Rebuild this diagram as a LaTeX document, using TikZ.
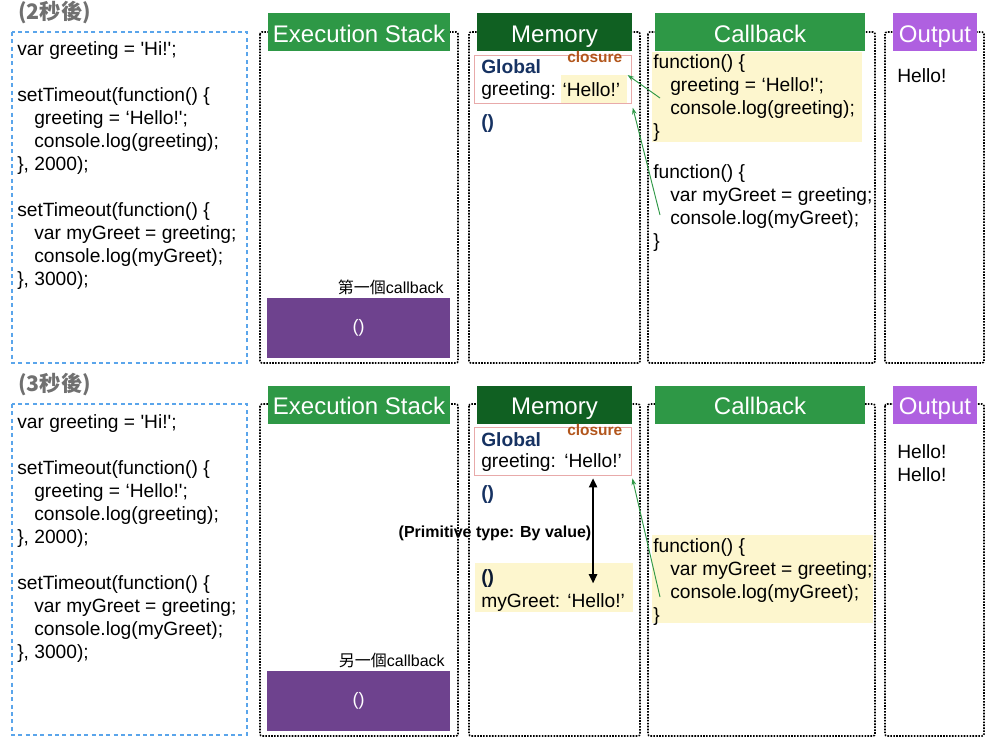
\documentclass[tikz,border=0pt]{standalone}
\usepackage{fontspec}
\setmainfont{Liberation Sans}[Ligatures=TeXOff]
\newfontfamily\cjk{Noto Sans CJK TC}
\usetikzlibrary{arrows.meta}

\definecolor{hdgreen}{RGB}{46,152,70}
\definecolor{memgreen}{RGB}{16,96,34}
\definecolor{outpurple}{RGB}{175,96,224}
\definecolor{stackpurple}{RGB}{110,66,142}
\definecolor{hlyellow}{RGB}{253,246,206}
\definecolor{codeblue}{RGB}{90,165,235}
\definecolor{pinkline}{RGB}{232,170,170}
\definecolor{closurebrown}{RGB}{178,86,28}
\definecolor{globalnavy}{RGB}{22,50,98}
\definecolor{titlegray}{RGB}{112,112,112}

\begin{document}
\begin{tikzpicture}[x=0.75pt, y=-0.75pt,
  frame/.style={densely dotted, line width=1.2pt, rounded corners=1.5pt},
  codeframe/.style={draw=codeblue, dash pattern=on 3pt off 2.5pt, line width=1.1pt},
  header/.style={text=white, font=\fontsize{18}{20}\selectfont, inner sep=0pt, minimum height=28.5pt,
    text height=16pt, text depth=1pt},
  code/.style={font=\fontsize{14.4}{17.25}\selectfont, align=left, inner sep=0pt, anchor=north west},
  txt/.style={font=\fontsize{14.4}{17.25}\selectfont, inner sep=0pt, anchor=base west},
  boldtxt/.style={font=\fontsize{14.4}{17.25}\selectfont\bfseries, inner sep=0pt, anchor=base west},
  closure/.style={font=\fontsize{11.6}{14}\selectfont\bfseries, text=closurebrown, inner sep=0pt, anchor=base west},
  title/.style={font=\cjk\bfseries\fontsize{16}{18}\selectfont, text=titlegray, inner sep=0pt, anchor=west},
  note/.style={font=\fontsize{12}{14}\selectfont, inner sep=0pt, anchor=base east},
  stackitem/.style={fill=stackpurple, text=white, font=\fontsize{13.5}{16}\selectfont, minimum width=137.25pt, minimum height=45pt},
  globalbox/.style={draw=pinkline, line width=0.6pt, anchor=north west, minimum width=117.75pt, minimum height=36pt},
  link/.style={-{Stealth[length=5pt, width=3.5pt]}, draw=hdgreen, line width=0.7pt}]
\useasboundingbox (0,0) rectangle (992,744);

% ---- 2 seconds later
\node[title] (titleA) at (18,13) {(2秒後)};
\draw[codeframe] (12,32) rectangle (247,363);
\node[code] (codeA) at (17,38.9) {\strut var greeting = 'Hi!';\\ \\
  setTimeout(function() \{\\ \hspace*{12.75pt}greeting = ‘Hello!';\\ \hspace*{12.75pt}console.log(greeting);\\ \}, 2000);\\ \\
  setTimeout(function() \{\\ \hspace*{12.75pt}var myGreet = greeting;\\ \hspace*{12.75pt}console.log(myGreet);\\ \}, 3000);};

\draw[frame] (260,32) rectangle (458,363);
\draw[frame] (469,32) rectangle (640,363);
\draw[frame] (648,32) rectangle (875,363);
\draw[frame] (885,32) rectangle (984,363);
\node[header, fill=hdgreen, minimum width=136.5pt] (stackhdA) at (359,32) {Execution Stack};
\node[header, fill=memgreen, minimum width=116.25pt] (memhdA) at (554.5,32) {Memory};
\node[header, fill=hdgreen, minimum width=157.5pt] (cbhdA) at (760,32) {Callback};
\node[header, fill=outpurple, minimum width=63pt] (outhdA) at (935,32) {Output};

\node[note] (labelA) at (444,293) {{\cjk 第一個}callback};
\node[stackitem] (callA) at (358.5,328) {()};

\node[globalbox] (globalA) at (474,55) {};
\node[closure] (closA) at (567,62) {closure};
\node[boldtxt, text=globalnavy] (globtA) at (481,73) {Global};
\node[txt] (greetA) at (481,95) {greeting:};
\node[fill=hlyellow, anchor=north west, inner xsep=1pt, inner ysep=0pt, text width=47.5pt, align=left,
  minimum height=21pt, font=\fontsize{14.4}{17.25}\selectfont] (helloA) at (561,75) {‘Hello!’};
\node[boldtxt, text=globalnavy] (fnA) at (481,128) {()};

\fill[hlyellow] (652,52) rectangle (862,142);
\node[code] (cbcodeA1) at (653,51.9) {\strut function() \{\\ \hspace*{12.75pt}greeting = ‘Hello!';\\ \hspace*{12.75pt}console.log(greeting);\\ \}};
\node[code] (cbcodeA2) at (653,161.9) {\strut function() \{\\ \hspace*{12.75pt}var myGreet = greeting;\\ \hspace*{12.75pt}console.log(myGreet);\\ \}};

\node[txt] (outA) at (897,82) {Hello!};

\coordinate (srcA1) at (660,98);
\coordinate (srcA2) at (660,215);
\draw[link] (srcA1) -- (helloA.north east);
\draw[link, shorten >=3pt] (srcA2) -- (globalA.south east);

% ---- 3 seconds later
\node[title] (titleB) at (18,385) {(3秒後)};
\draw[codeframe] (12,404) rectangle (247,735);
\node[code] (codeB) at (17,411.9) {\strut var greeting = 'Hi!';\\ \\
  setTimeout(function() \{\\ \hspace*{12.75pt}greeting = ‘Hello!';\\ \hspace*{12.75pt}console.log(greeting);\\ \}, 2000);\\ \\
  setTimeout(function() \{\\ \hspace*{12.75pt}var myGreet = greeting;\\ \hspace*{12.75pt}console.log(myGreet);\\ \}, 3000);};

\draw[frame] (260,404) rectangle (458,736);
\draw[frame] (469,404) rectangle (640,736);
\draw[frame] (648,404) rectangle (875,736);
\draw[frame] (885,404) rectangle (984,736);
\node[header, fill=hdgreen, minimum width=136.5pt] (stackhdB) at (359,404.5) {Execution Stack};
\node[header, fill=memgreen, minimum width=116.25pt] (memhdB) at (554.5,404.5) {Memory};
\node[header, fill=hdgreen, minimum width=157.5pt] (cbhdB) at (760,404.5) {Callback};
\node[header, fill=outpurple, minimum width=63pt] (outhdB) at (935,404.5) {Output};

\node[note] (labelB) at (445,666) {{\cjk 另一個}callback};
\node[stackitem] (callB) at (358.5,700.5) {()};

\node[globalbox] (globalB) at (474,427) {};
\node[closure] (closB) at (567,435) {closure};
\node[boldtxt, text=globalnavy] (globtB) at (481,446) {Global};
\node[txt] (greetB) at (481,467) {greeting:};
\node[txt] (helloB) at (564,467) {‘Hello!’};
\node[boldtxt, text=globalnavy] (fnB) at (481,499) {()};

\fill[hlyellow] (475,563) rectangle (633,612);
\node[boldtxt, text=globalnavy!50!black] (fnlocB) at (481,583) {()};
\node[txt] (mgB) at (481,607) {myGreet:};
\node[txt] (mghelloB) at (567,607) {‘Hello!’};

\draw[{Triangle[length=7pt, width=6pt]}-{Triangle[length=7pt, width=6pt]}, line width=1.8pt,
  shorten <=8pt, shorten >=7pt] (helloB.south) -- (helloB.south |- mghelloB.north);
\node[font=\fontsize{12}{14}\selectfont\bfseries, inner sep=0pt, anchor=base] (primB) at (495,537) {(Primitive type: By value)};

\fill[hlyellow] (652,535) rectangle (873,623);
\node[code] (cbcodeB) at (653,535.9) {\strut function() \{\\ \hspace*{12.75pt}var myGreet = greeting;\\ \hspace*{12.75pt}console.log(myGreet);\\ \}};

\node[code] (outB) at (897,441.9) {\strut Hello!\\Hello!};

\coordinate (srcB) at (660,597);
\draw[link, shorten >=2pt] (srcB) -- (globalB.south east);
\end{tikzpicture}
\end{document}
